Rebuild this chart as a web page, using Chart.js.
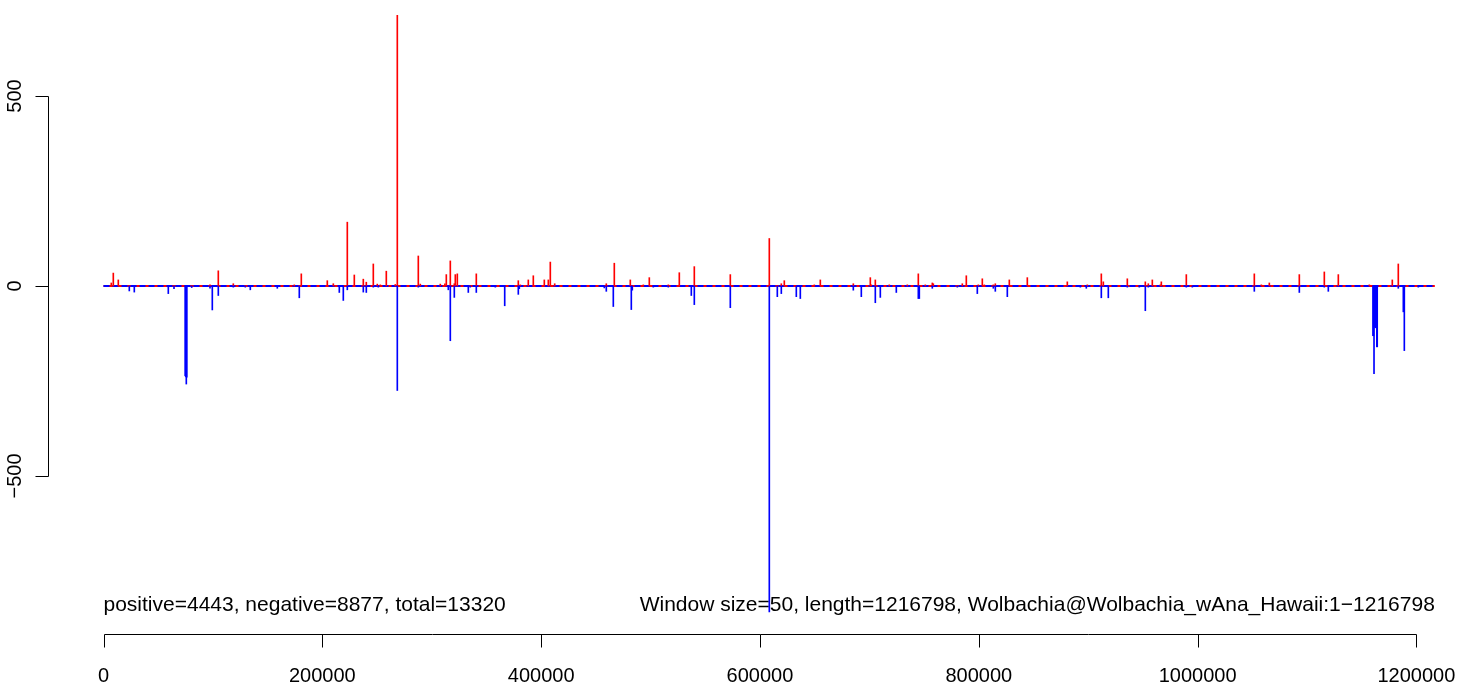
<!DOCTYPE html>
<html>
<head>
<meta charset="utf-8">
<script src="https://cdn.jsdelivr.net/npm/chart.js@4/dist/chart.umd.min.js"></script>
<style>
  html, body { margin: 0; padding: 0; background: #fff; }
  canvas { display: block; }
</style>
</head>
<body>
<canvas id="skew" width="1472" height="687"></canvas>
<script>
// window positions (bp) and counts
const posPos = [7129, 8957, 13527, 97341, 104927, 118637, 174391, 180789, 204553, 210037,
	222833, 229231, 237457, 240199, 246597, 250253, 252995, 258479, 266705, 268533,
	287727, 289556, 307838, 312041, 313323, 316979, 320635, 321549, 323377, 340739,
	379127, 380955, 388267, 392837, 402891, 406547, 408375, 412397, 459555, 466867,
	481491, 493377, 498861, 516227, 526281, 539991, 572895, 608541, 619509, 622251,
	649670, 655155, 685317, 700855, 701769, 705425, 718221, 734673, 744727, 751125,
	757523, 758437, 784943, 788599, 799567, 803223, 805051, 813277, 815105, 827901,
	844353, 880913, 899193, 911989, 913817, 935753, 952205, 954947, 958603, 965915,
	966829, 989679, 1051831, 1058229, 1065541, 1092961, 1115811, 1128607, 1156941, 1177943,
	1183427]
const posVal = [8, 34, 16, 3, 40, 6, 3, 32, 14, 6,
	168, 29, 18, 10, 58, 5, 3, 39, 4, 713,
	79, 5, 5, 6, 30, 66, 6, 30, 32, 32,
	14, 3, 16, 27, 16, 16, 63, 6, 6, 60,
	16, 3, 22, 3, 35, 51, 30, 125, 6, 14,
	3, 16, 6, 22, 3, 16, 3, 3, 32, 3,
	8, 6, 6, 27, 3, 19, 3, 3, 6, 16,
	22, 11, 3, 32, 11, 19, 11, 6, 16, 3,
	11, 30, 32, 3, 8, 30, 37, 30, 3, 16,
	58]

const negPos = [23581, 28151, 59227, 64437, 74674, 75131, 75679, 76136, 80615, 97341,
	99443, 104927, 118637, 129605, 134175, 158853, 178957, 215521, 219177, 222833,
	237457, 240199, 246597, 251167, 268533, 287727, 315147, 316979, 320635, 333427,
	335255, 340739, 358105, 366697, 379127, 380041, 457727, 459555, 465953, 482405,
	483319, 502517, 516227, 537249, 539991, 572895, 608541, 615853, 619509, 633219,
	636875, 685317, 692629, 705425, 709995, 724619, 744727, 745641, 757523, 780373,
	798653, 813277, 815105, 826073, 892795, 898279, 911989, 918387, 935753, 946721,
	952205, 954947, 989679, 995163, 1051831, 1092961, 1115811, 1119467, 1160323, 1160689,
	1161237, 1161603, 1161968, 1162334, 1162699, 1163065, 1163431, 1163796, 1164162, 1183427,
	1188017, 1188931, 1201727]
const negVal = [-13, -16, -20, -7, -236, -239, -258, -240, -4, -6,
	-63, -25, -3, -3, -10, -6, -31, -17, -38, -10,
	-16, -17, -3, -3, -275, -3, -10, -144, -30, -17,
	-3, -17, -3, -52, -22, -7, -5, -14, -54, -62,
	-11, -3, -3, -25, -49, -57, -858, -28, -20, -28,
	-33, -11, -28, -44, -30, -17, -33, -33, -6, -3,
	-20, -6, -14, -28, -3, -6, -31, -31, -3, -3,
	-65, -3, -3, -3, -14, -17, -3, -14, -131, -131,
	-231, -107, -107, -110, -107, -107, -105, -160, -160, -6,
	-68, -170, -3]

const seqRange = [1, 1216798]
const xTicks = [0, 200000, 400000, 600000, 800000, 1000000, 1200000]
const yTicks = [-500, 0, 500]
const leftNote = 'positive=4443, negative=8877, total=13320'
const rightNote = 'Window size=50, length=1216798, Wolbachia@Wolbachia_wAna_Hawaii:1\u22121216798'

const FONT = '20px "Liberation Sans", Arial, sans-serif'
const NOTE_FONT = '21px "Liberation Sans", Arial, sans-serif'

const toPoints = (xs, ys) => xs.map((x, i) => ({ x: x, y: ys[i] }))

// R style axes: line only between first and last tick
const rAxes = {
	id: 'rAxes',
	beforeDatasetsDraw(chart) {
		const { ctx, scales } = chart
		const x = scales.x, y = scales.y
		ctx.save()
		ctx.fillStyle = '#000'
		ctx.font = NOTE_FONT
		ctx.textBaseline = 'middle'
		const ny = y.getPixelForValue(-839.5)
		ctx.textAlign = 'left'
		ctx.fillText(leftNote, x.getPixelForValue(0), ny)
		ctx.textAlign = 'right'
		ctx.fillText(rightNote, x.getPixelForValue(seqRange[1]), ny)
		ctx.restore()
	},
	afterDraw(chart) {
		const { ctx, scales, chartArea } = chart
		const x = scales.x, y = scales.y
		ctx.save()
		ctx.strokeStyle = '#000'
		ctx.lineWidth = 1
		ctx.fillStyle = '#000'
		ctx.font = FONT

		// x axis
		const ay = Math.round(chartArea.bottom) + 0.5
		ctx.beginPath()
		ctx.moveTo(Math.round(x.getPixelForValue(xTicks[0])) + 0.5, ay)
		ctx.lineTo(Math.round(x.getPixelForValue(xTicks[xTicks.length - 1])) + 0.5, ay)
		xTicks.forEach(v => {
			const px = Math.round(x.getPixelForValue(v)) + 0.5
			ctx.moveTo(px, ay)
			ctx.lineTo(px, ay + 13)
		})
		ctx.stroke()
		ctx.textAlign = 'center'
		ctx.textBaseline = 'middle'
		xTicks.forEach(v => ctx.fillText(String(v), x.getPixelForValue(v), ay + 42))

		// y axis
		const ax = Math.round(chartArea.left) + 0.5
		ctx.beginPath()
		ctx.moveTo(ax, Math.round(y.getPixelForValue(yTicks[0])) + 0.5)
		ctx.lineTo(ax, Math.round(y.getPixelForValue(yTicks[yTicks.length - 1])) + 0.5)
		yTicks.forEach(v => {
			const py = Math.round(y.getPixelForValue(v)) + 0.5
			ctx.moveTo(ax, py)
			ctx.lineTo(ax - 13, py)
		})
		ctx.stroke()
		yTicks.forEach(v => {
			ctx.save()
			ctx.translate(ax - 33, y.getPixelForValue(v))
			ctx.rotate(-Math.PI / 2)
			ctx.fillText(v < 0 ? '\u2212' + Math.abs(v) : String(v), 0, 0)
			ctx.restore()
		})
		ctx.restore()
	},
}

new Chart(document.getElementById('skew'), {
	type: 'bar',
	data: {
		datasets: [
			{
				label: 'negative',
				data: toPoints(negPos, negVal),
				backgroundColor: '#0000ff',
				barThickness: 1,
				stack: 's',
			},
			{
				label: 'positive',
				data: toPoints(posPos, posVal),
				backgroundColor: '#ff0000',
				barThickness: 1,
				stack: 's',
			},
			{
				type: 'line',
				label: 'base-neg',
				data: seqRange.map(v => ({ x: v, y: 0 })),
				borderColor: '#0000ff',
				borderWidth: 2,
				borderDash: [6, 3],
				pointRadius: 0,
			},
			{
				type: 'line',
				label: 'base-pos',
				data: seqRange.map(v => ({ x: v, y: 0 })),
				borderColor: '#ff0000',
				borderWidth: 2,
				pointRadius: 0,
			},
		],
	},
	options: {
		responsive: false,
		animation: false,
		devicePixelRatio: 1,
		layout: { padding: { left: 48, right: 12, top: 15, bottom: 53 } },
		plugins: { legend: { display: false }, tooltip: { enabled: false } },
		scales: {
			x: { type: 'linear', offset: false, min: -50727, max: 1239821, display: false },
			y: { type: 'linear', min: -915.8, max: 713.2, display: false },
		},
	},
	plugins: [rAxes],
})
</script>
</body>
</html>
